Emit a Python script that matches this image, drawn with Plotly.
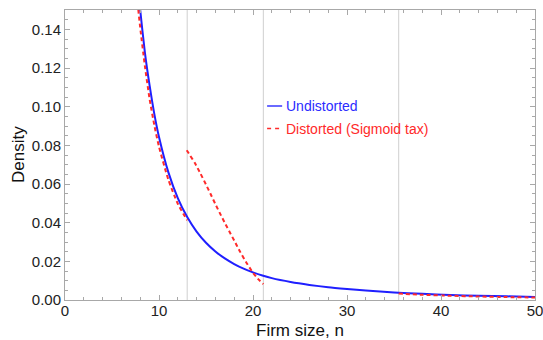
import plotly.graph_objects as go

# ---- data ----
n_undist = [7.8, 8.0, 8.5, 9.0, 9.5, 10.0, 11.0, 12.0, 13.0, 14.0, 15.0, 16.0, 17.0, 18.0,
            19.0, 20.0, 21.0, 22.0, 24.0, 26.0, 28.0, 30.0, 32.0, 35.0, 38.0, 41.0, 44.0, 47.0, 50.0]
d_undist = [0.160, 0.150, 0.128, 0.111, 0.0963, 0.0843, 0.0660, 0.0527, 0.0429, 0.0354, 0.0296,
            0.0251, 0.0215, 0.0186, 0.0162, 0.0143, 0.0127, 0.0113, 0.0093, 0.0078, 0.0066, 0.0057,
            0.0049, 0.0039, 0.0032, 0.0026, 0.0022, 0.0019, 0.0016]

n_dist_low = [7.6, 7.8, 8.0, 8.5, 9.0, 9.5, 10.0, 11.0, 12.0, 13.0]
d_dist_low = [0.161, 0.150, 0.141, 0.121, 0.104, 0.0905, 0.0793, 0.0622, 0.0498, 0.0412]

n_dist_mid = [12.95, 13.3, 13.8, 14.4, 15.0, 15.5, 16.0, 16.5, 17.0, 17.5, 18.0, 18.6, 19.3,
              20.0, 20.5, 21.1]
d_dist_mid = [0.0775, 0.0748, 0.0710, 0.0655, 0.0597, 0.0547, 0.0496, 0.0447, 0.0399, 0.0353,
              0.0308, 0.0252, 0.0193, 0.0141, 0.0111, 0.0082]

n_dist_high = [35.5, 38.0, 41.0, 44.0, 47.0, 50.0]
d_dist_high = [0.0033, 0.0027, 0.0022, 0.0018, 0.0015, 0.0013]

thresholds = [13.0, 21.1, 35.5]

x_ticks = [0, 10, 20, 30, 40, 50]
x_tick_labels = ["0", "10", "20", "30", "40", "50"]
y_ticks = [0.0, 0.02, 0.04, 0.06, 0.08, 0.10, 0.12, 0.14]
y_tick_labels = ["0.00", "0.02", "0.04", "0.06", "0.08", "0.10", "0.12", "0.14"]

series_names = ["Undistorted", "Distorted (Sigmoid tax)"]

BLUE = "#1f1fff"
RED = "#ff2a2a"
FRAME = "#a8a8a8"
FONT = "Liberation Sans, Arial, sans-serif"

fig = go.Figure()

fig.add_trace(go.Scatter(x=n_undist, y=d_undist, mode="lines",
                         line=dict(color=BLUE, width=2, shape="spline", smoothing=0.6),
                         showlegend=False, hoverinfo="skip"))
for xs, ys in [(n_dist_low, d_dist_low), (n_dist_mid, d_dist_mid), (n_dist_high, d_dist_high)]:
    fig.add_trace(go.Scatter(x=xs, y=ys, mode="lines",
                             line=dict(color=RED, width=2, dash="4px,3px", shape="spline", smoothing=0.6),
                             showlegend=False, hoverinfo="skip"))

for t in thresholds:
    fig.add_shape(type="line", xref="x", yref="paper", x0=t, x1=t, y0=0, y1=1,
                  line=dict(color="#cfcfcf", width=1), layer="below")

# manual legend
leg_x0, leg_x1 = 0.430, 0.462
fig.add_shape(type="line", xref="paper", yref="paper", x0=leg_x0, x1=leg_x1, y0=0.669, y1=0.669,
              line=dict(color="#6a6aff", width=2))
fig.add_shape(type="line", xref="paper", yref="paper", x0=leg_x0, x1=leg_x1, y0=0.591, y1=0.591,
              line=dict(color=RED, width=1.5, dash="4px,4px"))
fig.add_annotation(xref="paper", yref="paper", x=0.467, y=0.669, text=series_names[0],
                   showarrow=False, xanchor="left", yanchor="middle",
                   font=dict(family=FONT, size=14, color="#2b2bff"))
fig.add_annotation(xref="paper", yref="paper", x=0.465, y=0.591, text=series_names[1],
                   showarrow=False, xanchor="left", yanchor="middle",
                   font=dict(family=FONT, size=14, color=RED))

# axis titles
fig.add_annotation(xref="paper", yref="paper", x=0.5, y=0, yshift=-30, text="Firm size, n",
                   showarrow=False, xanchor="center", yanchor="middle",
                   font=dict(family=FONT, size=17, color="#111"))
fig.add_annotation(xref="paper", yref="paper", x=0, y=0.5, xshift=-47, text="Density",
                   textangle=-90, showarrow=False, xanchor="center", yanchor="middle",
                   font=dict(family=FONT, size=17, color="#111"))

axis_common = dict(showline=True, linecolor=FRAME, linewidth=1, mirror="allticks",
                   ticks="inside", ticklen=5, tickcolor=FRAME, tickwidth=1,
                   showgrid=False, zeroline=False, ticklabeloverflow="allow", automargin=False,
                   tickfont=dict(family=FONT, size=15, color="#222"))

fig.update_xaxes(range=[0, 50], tickvals=x_ticks, ticktext=x_tick_labels,
                 minor=dict(ticks="inside", dtick=2, ticklen=3, tickcolor=FRAME, showgrid=False),
                 ticklabelstandoff=-3,
                 **axis_common)
fig.update_yaxes(range=[0, 0.15], tickvals=y_ticks, ticktext=y_tick_labels,
                 minor=dict(ticks="inside", dtick=0.005, ticklen=3, tickcolor=FRAME, showgrid=False),
                 **axis_common)

fig.update_layout(width=543, height=340, margin=dict(l=65, r=8, t=10, b=40),
                  paper_bgcolor="white", plot_bgcolor="white", showlegend=False,
                  font=dict(family=FONT))

fig.write_html("out.html")
